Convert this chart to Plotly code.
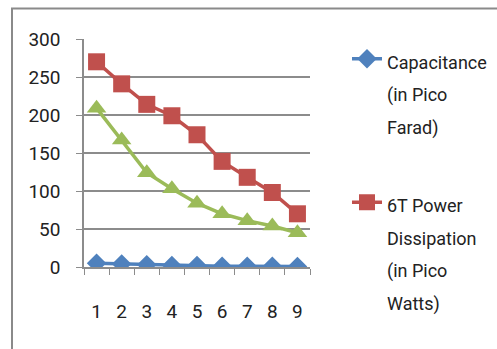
import plotly.graph_objects as go

# Data series
categories = ["1", "2", "3", "4", "5", "6", "7", "8", "9"]
capacitance_pf = [5, 4, 3, 2, 2, 1, 1, 1, 0.5]
power_6t_pw = [270, 241, 214, 199, 174, 139, 118, 98, 70]
power_8t_pw = [209, 167, 124, 103, 84, 70, 61, 54, 45]

W, H = 497, 349
L, R, T, B = 84, 187, 39, 82
pw, ph = W - L - R, H - T - B

FONT = "Roboto, Liberation Sans, sans-serif"
GRID = "#8c8c8c"


def legend_label(lines, size=18):
    # smaller glyphs inside a larger legend font give looser line spacing
    return "<br>".join(f"<span style='font-size:{size}px'>{s}</span>" for s in lines)


fig = go.Figure()
fig.add_trace(go.Scatter(
    x=categories, y=capacitance_pf,
    name=legend_label(["Capacitance", "(in Pico", "Farad)"]),
    mode="lines+markers", legendgroup="a",
    line=dict(color="#4F81BD", width=3.5),
    marker=dict(symbol="diamond", size=15, color="#4F81BD"),
))
fig.add_trace(go.Scatter(
    x=categories, y=power_6t_pw,
    name=legend_label(["6T Power", "Dissipation", "(in Pico", "Watts)"]),
    mode="lines+markers", legendgroup="b",
    line=dict(color="#C0504D", width=3.5),
    marker=dict(symbol="square", size=17, color="#C0504D"),
))
fig.add_trace(go.Scatter(
    x=categories, y=power_8t_pw, name="8T Power Dissipation (in Pico Watts)",
    mode="lines+markers", legendgroup="c", showlegend=False,
    line=dict(color="#9BBB59", width=3.5),
    marker=dict(symbol="triangle-up", size=17, color="#9BBB59"),
))

# Chart-area border (extends past the right and bottom edges of the page)
def px_to_paper_x(px):
    return (px - L) / pw

def px_to_paper_y(py):
    return (H - B - py) / ph

fig.add_shape(
    type="rect", xref="paper", yref="paper", layer="below",
    x0=px_to_paper_x(12), x1=px_to_paper_x(W + 20),
    y0=px_to_paper_y(H + 20), y1=px_to_paper_y(8.5),
    line=dict(color="#8a8a8a", width=2), fillcolor="rgba(0,0,0,0)",
)

fig.update_layout(
    width=W, height=H,
    margin=dict(l=L, r=R, t=T, b=B, autoexpand=False),
    paper_bgcolor="white", plot_bgcolor="white",
    font=dict(family=FONT, size=19, color="#222222"),
    showlegend=True,
    legend=dict(
        x=px_to_paper_x(347), y=px_to_paper_y(36), xanchor="left", yanchor="top",
        valign="top", tracegroupgap=43, bgcolor="rgba(0,0,0,0)",
        maxheight=400,
        font=dict(family=FONT, size=25, color="#222222"),
    ),
    xaxis=dict(
        type="category", tickson="boundaries", ticks="outside", ticklen=6,
        tickcolor=GRID, showline=True, linecolor=GRID, linewidth=1.5,
        showgrid=False, zeroline=False, ticklabelstandoff=26,
        range=[-0.5, 8.5], fixedrange=True,
    ),
    yaxis=dict(
        range=[0, 300], tickvals=[0, 50, 100, 150, 200, 250, 300],
        ticks="outside", ticklen=6, tickcolor=GRID,
        showline=True, linecolor=GRID, linewidth=1.5,
        showgrid=True, gridcolor=GRID, gridwidth=1.5, zeroline=False,
        ticklabelstandoff=12, fixedrange=True,
    ),
)

fig.write_html("out.html")
